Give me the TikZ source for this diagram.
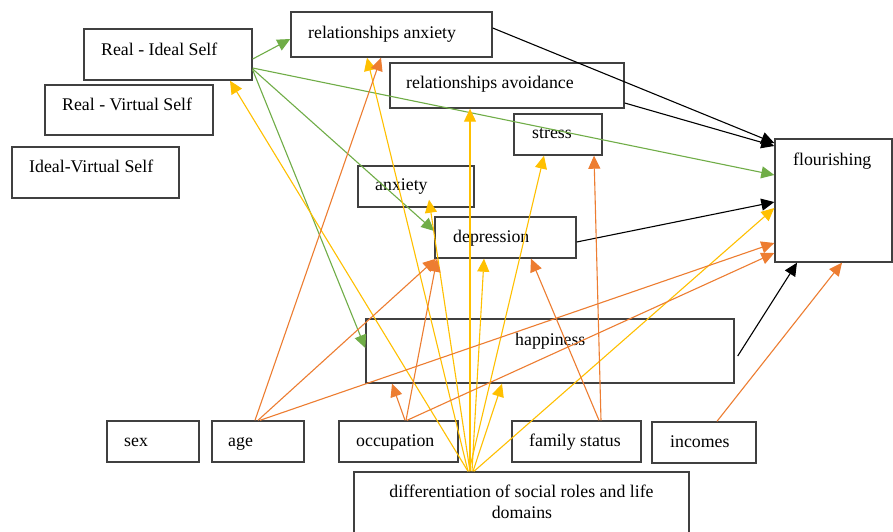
\documentclass[tikz,border=0pt]{standalone}
\usepackage{fontspec}
\setmainfont{Liberation Serif}
\usetikzlibrary{arrows.meta,calc}
\definecolor{ggreen}{HTML}{70AD47}
\definecolor{gorange}{HTML}{ED7D31}
\definecolor{gyellow}{HTML}{FFC000}
\definecolor{gbox}{HTML}{404040}
\begin{document}
\begin{tikzpicture}[x=1pt,y=-1pt,
  box/.style={draw=gbox,line width=1.4pt,rectangle,inner sep=0pt},
  txt/.style={anchor=base west,inner sep=0pt,font=\fontsize{17.8}{21}\selectfont},
  ctxt/.style={anchor=base,inner sep=0pt,font=\fontsize{17.8}{21}\selectfont},
  conn/.style={line width=1.1pt,-{Triangle[length=13pt,width=12pt]}},
  gr/.style={conn,draw=ggreen},
  bk/.style={conn,draw=black},
  ye/.style={conn,draw=gyellow},
  orr/.style={conn,draw=gorange}]
\useasboundingbox (0,0) rectangle (893,531);
\fill[white] (0,0) rectangle (893,531);
% boxes
\node[box,minimum width=168pt,minimum height=51pt] (ri) at (168,54.5) {};
\node[box,minimum width=168pt,minimum height=50pt] (rv) at (129,110) {};
\node[box,minimum width=167pt,minimum height=51pt] (iv) at (95.5,172.5) {};
\node[box,minimum width=201pt,minimum height=45pt] (ra) at (391.5,34.5) {};
\node[box,minimum width=234pt,minimum height=45pt] (rav) at (507,85.5) {};
\node[box,minimum width=88pt,minimum height=41pt] (st) at (558,134.5) {};
\node[box,minimum width=116pt,minimum height=41pt] (anx) at (416,186.5) {};
\node[box,minimum width=141pt,minimum height=41pt] (dep) at (505.5,237.5) {};
\node[box,minimum width=368pt,minimum height=64pt] (hap) at (550,351) {};
\node[box,minimum width=117pt,minimum height=123pt] (fl) at (833.5,200.5) {};
\node[box,minimum width=92pt,minimum height=41pt] (sex) at (153,441.5) {};
\node[box,minimum width=92pt,minimum height=41pt] (age) at (258,441.5) {};
\node[box,minimum width=119pt,minimum height=41pt] (occ) at (398.5,441.5) {};
\node[box,minimum width=129pt,minimum height=41pt] (fs) at (576.5,441.5) {};
\node[box,minimum width=104pt,minimum height=41pt] (inc) at (704,442.5) {};
\node[box,minimum width=335pt,minimum height=73pt] (dif) at (521.5,508.5) {};
% texts
\node[txt] (riT) at (101,55) {Real - Ideal Self};
\node[txt] (rvT) at (62,110) {Real - Virtual Self};
\node[txt] (ivT) at (29,172) {Ideal-Virtual Self};
\node[txt] (raT) at (308,38) {relationships anxiety};
\node[txt] (ravT) at (406,88) {relationships avoidance};
\node[txt] (stT) at (532,138) {stress};
\node[txt] (anxT) at (375,190) {anxiety};
\node[txt] (depT) at (453,242) {depression};
\node[txt] (hapT) at (515,345) {happiness};
\node[txt] (flT) at (793,165) {flourishing};
\node[txt] (sexT) at (124,446) {sex};
\node[txt] (ageT) at (228,446) {age};
\node[txt] (occT) at (356,446) {occupation};
\node[txt] (fsT) at (529,446) {family status};
\node[txt] (incT) at (670,447) {incomes};
\node[ctxt] (difT1) at (521.5,497) {differentiation of social roles and life};
\node[ctxt] (difT2) at (522,518) {domains};
% green
\draw[gr] (ri.east |- 0,59) -- (ra.west |- 0,39);
\draw[gr] (ri.east |- 0,68) -- (fl.west |- 0,175);
\draw[gr] (ri.east |- 0,69) -- (dep.west |- 0,231);
\draw[gr] (ri.east |- 0,70) -- (hap.west |- 0,348);
% black
\draw[bk] (ra.east |- 0,28) -- (fl.west |- 0,143);
\draw[bk] (rav.east |- 0,103) -- (fl.west |- 0,146);
\draw[bk] (dep.east |- 0,242) -- (fl.west |- 0,202);
\draw[bk] ($(hap.east |- 0,356)+(3,0)$) -- (fl.south -| 797,0);
% yellow
\draw[ye] (dif.north -| 468,0) -- (ri.south -| 230,0);
\draw[ye] (dif.north -| 468,0) -- (ra.south -| 367,0);
\draw[ye] (dif.north -| 470,0) -- (rav.south -| 470,0);
\draw[ye] (dif.north -| 469,0) -- (st.south -| 544,0);
\draw[ye] (dif.north -| 470,0) -- ($(anx.south -| 429,0)+(0,-8)$);
\draw[ye] (dif.north -| 472,0) -- (dep.south -| 484,0);
\draw[ye] (dif.north -| 473,0) -- (hap.south -| 502,0);
\draw[ye] (dif.north -| 474,0) -- (fl.west |- 0,208);
% orange
\draw[orr] (age.north -| 255,0) -- (ra.south -| 381,0);
\draw[orr] (age.north -| 258,0) -- (dep.south -| 436,0);
\draw[orr] (age.north -| 260,0) -- (fl.west |- 0,243);
\draw[orr] (occ.north -| 405,0) -- (hap.south -| 392,0);
\draw[orr] (occ.north -| 406,0) -- (dep.south -| 437,0);
\draw[orr] (occ.north -| 407,0) -- (fl.west |- 0,253);
\draw[orr] (fs.north -| 599,0) -- (dep.south -| 531,0);
\draw[orr] (fs.north -| 601,0) -- (st.south -| 594,0);
\draw[orr] (inc.north -| 717,0) -- (fl.south -| 842,0);
\end{tikzpicture}
\end{document}
